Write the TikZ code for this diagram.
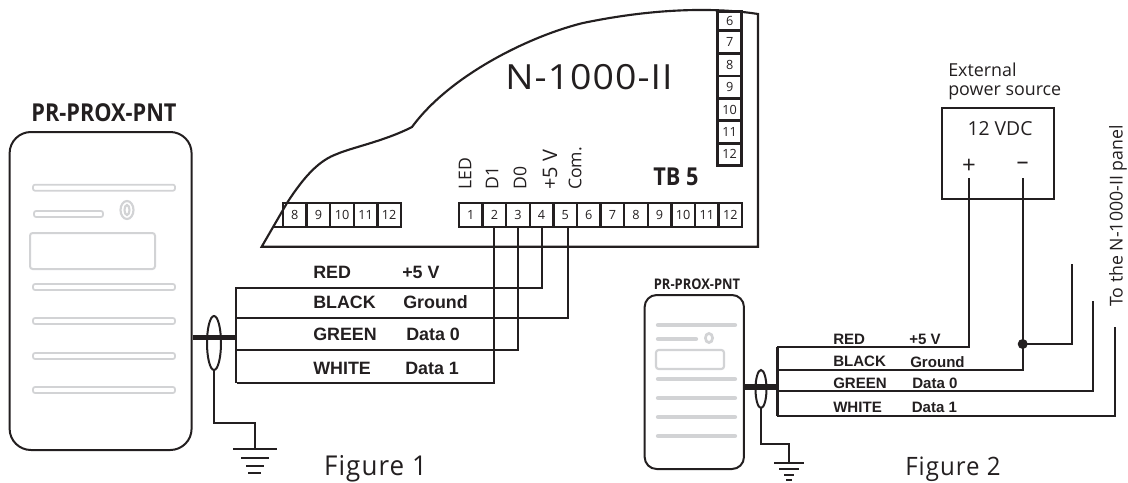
\documentclass[tikz,border=0pt]{standalone}
\usepackage{fontspec}
\setmainfont{Open Sans}
\newfontfamily\wirefont{Liberation Sans}[BoldFont={Liberation Sans Bold}]
\newfontfamily\condfont{Open Sans}[FakeStretch=0.88,BoldFont={Open Sans Bold}]
\newfontfamily\widefont{Open Sans}[FakeStretch=1.08,LetterSpace=3]
\newfontfamily\figfont{Open Sans}[FakeStretch=0.95,LetterSpace=4]
\definecolor{ink}{HTML}{231F20}
\definecolor{faint}{HTML}{D2D3D5}
\tikzset{
  ink line/.style={draw=ink,line width=1.6pt},
  wire/.style={draw=ink,line width=1.6pt,line cap=rect},
  bus/.style={draw=ink,line width=1.9pt},
  trunk/.style={draw=ink,line width=3.8pt},
  reader/.style={draw=ink,line width=1.5pt},
  stripe/.style={draw=faint,line width=1.3pt,rounded corners=1.5pt,fill=white},
  stripe solid/.style={draw=faint,line width=3.2pt,line cap=round},
  cell/.style={draw=ink,line width=1.9pt,inner sep=0pt,minimum width=17.7pt,minimum height=18pt,font=\fontsize{9.5}{10}\selectfont,text=ink},
  vcell/.style={draw=ink,line width=1.9pt,inner sep=0pt,minimum width=18pt,minimum height=16.9pt,font=\fontsize{9.5}{10}\selectfont,text=ink},
  lab/.style={inner sep=0pt,text=ink},
  wlabA/.style={lab,anchor=west,font=\wirefont\bfseries\fontsize{13.4}{14}\selectfont},
  wlabB/.style={lab,anchor=west,font=\wirefont\bfseries\fontsize{11.3}{12}\selectfont},
  tblab/.style={lab,anchor=west,rotate=90,font=\fontsize{13.2}{14}\selectfont},
  ground bar/.style={draw=ink,line width=1.5pt},
}
\begin{document}
\begin{tikzpicture}[x=0.75pt,y=-0.75pt]
\useasboundingbox (0,0) rectangle (1128,482);
% ---- board outline
\draw[ink line,line join=miter] (261.7,246.7) -- (758,246.7) -- (758,14)
  .. controls (720,8) and (660,7) .. (583,23)
  .. controls (530,36) and (450,75) .. (412,127)
  .. controls (385,141) and (350,148) .. (337,154)
  .. controls (320,160) and (305,175) .. (287,203)
  -- cycle;
% ---- terminals
\foreach \i in {1,...,12}{\node[cell] (t\i) at ({459+23.6*(\i-0.5)},215) {\i};}
\foreach \i/\j in {8/0,9/1,10/2,11/3,12/4}{\node[cell] (l\i) at ({283+23.6*(\j+0.5)},215) {\i};}
\coordinate (pa) at (272.5,227);
\draw[bus] (pa) -- (283,227) -- (283,203);
\foreach \i/\j in {7/0,8/1,9/2,10/3,11/4,12/5}{\node[vcell] (r\i) at (729.7,{42.4+22.4*\j}) {\i};}
\node[vcell,minimum height=14.5pt] (r6) at (729.7,21) {6};
% ---- titles
\node[lab,font=\widefont\fontsize{26}{28}\selectfont] (title) at (589,77) {N-1000-II};
\node[lab,font=\condfont\bfseries\fontsize{18.5}{20}\selectfont] (tb) at (676,177) {TB 5};
\node[tblab] (nled) at (465,190) {LED};
\node[tblab] (nd1) at (492,190) {D1};
\node[tblab] (nd0) at (520,190) {D0};
\node[tblab,font=\fontsize{15}{16}\selectfont] (nv) at (550,190) {+5 V};
\node[tblab] (ncom) at (575,190) {Com.};
% ---- reader 1
\node[lab,font=\condfont\bfseries\fontsize{18.5}{20}\selectfont] (rn1) at (104,113) {PR-PROX-PNT};
\node[reader,draw,rounded corners=16pt,minimum width=136.5pt,minimum height=238.5pt,inner sep=0pt] (rd1) at (100.6,291) {};
\foreach \y in {187.7,287,321,356,390}{\draw[stripe] (33,{\y-3}) rectangle (175,{\y+3});}
\draw[stripe] (34,211) rectangle (103,217);
\draw[draw=faint,line width=1.6pt,fill=white] (127,210) ellipse (6.5 and 9);
\draw[draw=faint,line width=1.6pt] (127,210) ellipse (2.5 and 5);
\draw[draw=faint,line width=1.5pt,rounded corners=2pt] (30,233) rectangle (155,269);
% ---- wiring figure 1
\coordinate (j1) at (236,337.7);
\coordinate (bt1) at (236,287.7);
\coordinate (bb1) at (236,383);
\draw[trunk] (rd1.east |- j1) -- (j1);
\draw[bus] (bt1) -- (bb1);
\coordinate (gs1) at (214,343);
\draw[reader] (gs1) ellipse (7 and 27);
\node[inner sep=0pt] (gt1) at (255,449) {};
\draw[ink line] (214,370) |- (255,423) -- (gt1);
\foreach \a/\b/\y in {233/277/449,241/269/458,246/264/465.6,248/261/473}{\draw[ground bar] (\a,\y) -- (\b,\y);}
\coordinate (w1r) at (236,287.7);
\coordinate (w1b) at (236,317.7);
\coordinate (w1g) at (236,350);
\coordinate (w1w) at (238,383);
\coordinate (t5w) at (568,227);
\draw[wire] (w1r) -| (t4.south);
\draw[wire] (w1b) -| (t5w);
\draw[wire] (w1g) -| (t3.south);
\draw[wire] (w1w) -| (t2.south);
\node[wlabA] (a1) at (313,272) {RED};
\node[wlabA] (a2) at (313,302) {BLACK};
\node[wlabA] (a3) at (313,334) {GREEN};
\node[wlabA] (a4) at (313,368) {WHITE};
\node[wlabA] (a5) at (402,272) {+5 V};
\node[wlabA] (a6) at (403,302) {Ground};
\node[wlabA] (a7) at (406,334) {Data 0};
\node[wlabA] (a8) at (405,368) {Data 1};
\node[lab,font=\figfont\fontsize{20.5}{22}\selectfont] (f1) at (375.5,469) {Figure 1};
% ---- reader 2
\node[lab,font=\condfont\bfseries\fontsize{11}{12}\selectfont] (rn2) at (697,284) {PR-PROX-PNT};
\node[reader,draw,rounded corners=9pt,minimum width=74.5pt,minimum height=130.5pt,inner sep=0pt] (rd2) at (694.3,382) {};
\foreach \y in {325,379,398,417,436}{\draw[stripe solid] (658,\y) -- (735,\y);}
\draw[stripe solid] (658,339) -- (696,339);
\draw[draw=faint,line width=2pt,fill=white] (709,338) ellipse (3.6 and 4.6);
\draw[draw=faint,line width=1.6pt,rounded corners=2pt] (656,350) rectangle (724,369);
% ---- wiring figure 2
\coordinate (j2) at (777.7,387);
\coordinate (bt2) at (777.7,347);
\coordinate (bb2) at (777.7,416);
\draw[trunk] (rd2.east |- j2) -- (j2);
\draw[bus] (bt2) -- (bb2);
\draw[reader] (761,389) ellipse (5.5 and 19);
\node[inner sep=0pt] (gt2) at (789,463) {};
\draw[ink line] (761,408) |- (789,444) -- (gt2);
\foreach \a/\b/\y in {774/804/463,779/799/469,784/794/475,786/792/480}{\draw[ground bar] (\a,\y) -- (\b,\y);}
\node[reader,draw,minimum width=84pt,minimum height=68.3pt,inner sep=0pt] (ps) at (998,153.5) {};
\node[lab,font=\fontsize{14.5}{16}\selectfont] (v12) at (1000,129) {12 VDC};
\node[lab,font=\fontsize{18}{20}\selectfont] (plus) at (969,166) {+};
\node[lab,font=\fontsize{18}{20}\selectfont] (minus) at (1022.7,166) {–};
\coordinate (pp) at (969,179);
\coordinate (pm) at (1022.7,179);
\coordinate (wr2) at (777.7,347);
\coordinate (wb2) at (777.7,370);
\coordinate (wg2) at (777.7,391);
\coordinate (ww2) at (777.7,416);
\coordinate (e1) at (1072,265);
\coordinate (e2) at (1093,302);
\coordinate (e3) at (1115,328);
\coordinate (dot) at (1022.7,344);
\draw[wire] (wr2) -| (pp);
\draw[wire] (wb2) -| (pm);
\draw[wire] (wg2) -| (e2);
\draw[wire] (ww2) -| (e3);
\draw[wire] (dot) -| (e1);
\fill[ink] (dot) circle (5);
\node[wlabB] (b1) at (833,339) {RED};
\node[wlabB] (b2) at (833,361) {BLACK};
\node[wlabB] (b3) at (833,383) {GREEN};
\node[wlabB] (b4) at (833,407) {WHITE};
\node[wlabB] (b5) at (909,339) {+5 V};
\node[wlabB] (b6) at (910,362) {Ground};
\node[wlabB] (b7) at (912,383) {Data 0};
\node[wlabB] (b8) at (911.5,407) {Data 1};
\node[lab,anchor=west,align=left,font=\fontsize{13.4}{14.25}\selectfont] (ex) at (948,81) {External\\power source};
\node[lab,anchor=west,rotate=90,font=\fontsize{13.3}{15}\selectfont] (pan) at (1118,307) {To the N-1000-II panel};
\node[lab,font=\figfont\fontsize{19}{21}\selectfont] (f2) at (953,469) {Figure 2};
\end{tikzpicture}
\end{document}
